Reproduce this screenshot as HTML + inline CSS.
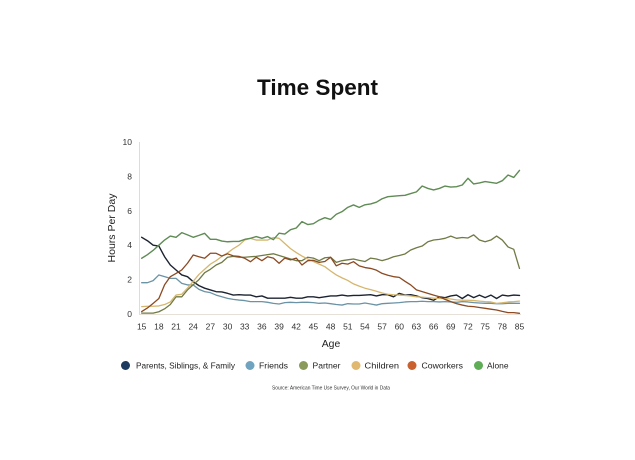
<!DOCTYPE html>
<html>
<head>
<meta charset="utf-8">
<style>
  html, body { margin: 0; padding: 0; background: #ffffff; }
  svg { display: block; }
  text { font-family: "Liberation Sans", sans-serif; }
</style>
</head>
<body>
<svg width="635" height="460" viewBox="0 0 635 460" xmlns="http://www.w3.org/2000/svg">
  <rect width="635" height="460" fill="#ffffff"/>

  <!-- Title -->
  <text x="317.5" y="95" text-anchor="middle" font-size="22" font-weight="bold" fill="#111" textLength="121" lengthAdjust="spacingAndGlyphs">Time Spent</text>

  <!-- Axes -->
  <line x1="139.5" y1="142" x2="139.5" y2="314" stroke="#dcdcdc" stroke-width="1"/>
  <line x1="139" y1="314.5" x2="521" y2="314.5" stroke="#e6e0d6" stroke-width="1"/>

  <!-- Y tick labels -->
  <g font-size="8.5" fill="#333" text-anchor="end">
    <text x="132" y="317">0</text>
    <text x="132" y="282.6">2</text>
    <text x="132" y="248.2">4</text>
    <text x="132" y="213.8">6</text>
    <text x="132" y="179.4">8</text>
    <text x="132" y="145">10</text>
  </g>

  <!-- Y axis title -->
  <text transform="translate(115,228) rotate(-90)" text-anchor="middle" font-size="10" fill="#222" textLength="69" lengthAdjust="spacingAndGlyphs">Hours Per Day</text>

  <!-- X tick labels -->
  <g font-size="8.5" fill="#333" text-anchor="middle">
    <text x="141.7" y="329.5">15</text>
    <text x="158.9" y="329.5">18</text>
    <text x="176.0" y="329.5">21</text>
    <text x="193.2" y="329.5">24</text>
    <text x="210.4" y="329.5">27</text>
    <text x="227.6" y="329.5">30</text>
    <text x="244.7" y="329.5">33</text>
    <text x="261.9" y="329.5">36</text>
    <text x="279.1" y="329.5">39</text>
    <text x="296.2" y="329.5">42</text>
    <text x="313.4" y="329.5">45</text>
    <text x="330.6" y="329.5">48</text>
    <text x="347.8" y="329.5">51</text>
    <text x="364.9" y="329.5">54</text>
    <text x="382.1" y="329.5">57</text>
    <text x="399.3" y="329.5">60</text>
    <text x="416.4" y="329.5">63</text>
    <text x="433.6" y="329.5">66</text>
    <text x="450.8" y="329.5">69</text>
    <text x="468.0" y="329.5">72</text>
    <text x="485.1" y="329.5">75</text>
    <text x="502.3" y="329.5">78</text>
    <text x="519.5" y="329.5">85</text>
  </g>

  <!-- X axis title -->
  <text x="331" y="347" text-anchor="middle" font-size="10" fill="#222" textLength="18.5" lengthAdjust="spacingAndGlyphs">Age</text>

  <!-- Series -->
  <g transform="translate(141.7,314) scale(5.724,-17.2)" fill="none" stroke-linejoin="round" stroke-linecap="round">
    <!-- Family -->
    <polyline vector-effect="non-scaling-stroke" stroke="#1c2330" stroke-width="1.4"
      points="0,4.46 1,4.26 2,4.0 3,3.95 4,3.33 5,2.85 6,2.56 7,2.27 8,2.17 9,1.88 10,1.65 11,1.5 12,1.4 13,1.3 14,1.28 15,1.2 16,1.1 17,1.12 18,1.1 19,1.1 20,1.0 21,1.05 22,0.92 23,0.92 24,0.92 25,0.92 26,0.97 27,0.92 28,0.92 29,1.0 30,1.0 31,0.95 32,1.0 33,1.05 34,1.05 35,1.1 36,1.05 37,1.08 38,1.08 39,1.1 40,1.12 41,1.05 42,1.12 43,1.12 44,1.0 45,1.2 46,1.1 47,1.12 48,1.05 49,0.95 50,0.9 51,0.8 52,1.0 53,0.95 54,1.05 55,1.1 56,0.9 57,1.12 58,0.95 59,1.1 60,0.95 61,1.1 62,0.9 63,1.1 64,1.05 65,1.1 66,1.08"/>
    <!-- Friends -->
    <polyline vector-effect="non-scaling-stroke" stroke="#6b93a6" stroke-width="1.3"
      points="0,1.82 1,1.82 2,1.94 3,2.27 4,2.17 5,2.07 6,2.07 7,1.78 8,1.69 9,1.69 10,1.43 11,1.3 12,1.24 13,1.1 14,1.0 15,0.91 16,0.85 17,0.81 18,0.78 19,0.72 20,0.72 21,0.72 22,0.68 23,0.62 24,0.58 25,0.66 26,0.68 27,0.66 28,0.68 29,0.68 30,0.66 31,0.62 32,0.64 33,0.6 34,0.55 35,0.52 36,0.6 37,0.58 38,0.58 39,0.64 40,0.58 41,0.52 42,0.6 43,0.62 44,0.64 45,0.66 46,0.7 47,0.72 48,0.72 49,0.74 50,0.72 51,0.72 52,0.7 53,0.72 54,0.7 55,0.68 56,0.72 57,0.7 58,0.66 59,0.64 60,0.62 61,0.62 62,0.6 63,0.6 64,0.62 65,0.62 66,0.62"/>
    <!-- Partner -->
    <polyline vector-effect="non-scaling-stroke" stroke="#6f7a44" stroke-width="1.3"
      points="0,0.05 1,0.05 2,0.05 3,0.13 4,0.3 5,0.55 6,1.0 7,1.0 8,1.4 9,1.7 10,2.0 11,2.4 12,2.6 13,2.85 14,3.0 15,3.3 16,3.35 17,3.3 18,3.3 19,3.33 20,3.35 21,3.4 22,3.45 23,3.5 24,3.4 25,3.3 26,3.2 27,3.1 28,3.1 29,3.3 30,3.25 31,3.1 32,3.27 33,3.3 34,3.0 35,3.1 36,3.15 37,3.2 38,3.12 39,3.05 40,3.25 41,3.2 42,3.1 43,3.2 44,3.33 45,3.4 46,3.49 47,3.72 48,3.85 49,3.95 50,4.2 51,4.3 52,4.34 53,4.4 54,4.53 55,4.4 56,4.45 57,4.42 58,4.6 59,4.3 60,4.2 61,4.3 62,4.53 63,4.3 64,3.9 65,3.76 66,2.65"/>
    <!-- Children -->
    <polyline vector-effect="non-scaling-stroke" stroke="#d6b66e" stroke-width="1.3"
      points="0,0.43 1,0.45 2,0.45 3,0.47 4,0.55 5,0.7 6,1.1 7,1.15 8,1.5 9,1.9 10,2.3 11,2.6 12,2.9 13,3.1 14,3.35 15,3.55 16,3.8 17,4.0 18,4.3 19,4.4 20,4.3 21,4.3 22,4.3 23,4.45 24,4.4 25,4.1 26,3.8 27,3.57 28,3.37 29,3.2 30,3.05 31,2.9 32,2.75 33,2.5 34,2.27 35,2.1 36,1.95 37,1.75 38,1.62 39,1.5 40,1.42 41,1.32 42,1.22 43,1.15 44,1.12 45,1.1 46,1.08 47,1.05 48,1.0 49,0.98 50,0.95 51,0.92 52,0.9 53,0.9 54,0.87 55,0.82 56,0.8 57,0.8 58,0.78 59,0.75 60,0.72 61,0.7 62,0.62 63,0.65 64,0.7 65,0.72 66,0.75"/>
    <!-- Coworkers -->
    <polyline vector-effect="non-scaling-stroke" stroke="#8b4a22" stroke-width="1.3"
      points="0,0.14 1,0.35 2,0.62 3,0.9 4,1.7 5,2.17 6,2.36 7,2.56 8,2.95 9,3.43 10,3.33 11,3.24 12,3.53 13,3.53 14,3.37 15,3.5 16,3.38 17,3.35 18,3.24 19,3.04 20,3.3 21,3.1 22,3.33 23,3.25 24,2.95 25,3.25 26,3.15 27,3.25 28,2.85 29,3.1 30,3.12 31,3.0 32,3.05 33,3.3 34,2.8 35,2.95 36,2.9 37,3.04 38,2.8 39,2.7 40,2.65 41,2.55 42,2.36 43,2.25 44,2.17 45,2.13 46,1.9 47,1.69 48,1.4 49,1.3 50,1.2 51,1.1 52,1.0 53,0.85 54,0.72 55,0.6 56,0.52 57,0.45 58,0.43 59,0.38 60,0.33 61,0.28 62,0.23 63,0.15 64,0.08 65,0.08 66,0.04"/>
    <!-- Alone -->
    <polyline vector-effect="non-scaling-stroke" stroke="#5f8b55" stroke-width="1.4"
      points="0,3.24 1,3.45 2,3.7 3,4.0 4,4.3 5,4.53 6,4.46 7,4.73 8,4.6 9,4.46 10,4.57 11,4.69 12,4.34 13,4.34 14,4.24 15,4.2 16,4.22 17,4.22 18,4.34 19,4.4 20,4.5 21,4.4 22,4.5 23,4.32 24,4.7 25,4.65 26,4.9 27,5.0 28,5.37 29,5.2 30,5.25 31,5.46 32,5.6 33,5.5 34,5.8 35,5.95 36,6.2 37,6.34 38,6.2 39,6.35 40,6.4 41,6.5 42,6.7 43,6.82 44,6.85 45,6.88 46,6.9 47,7.0 48,7.1 49,7.44 50,7.3 51,7.21 52,7.3 53,7.44 54,7.38 55,7.4 56,7.5 57,7.89 58,7.56 59,7.62 60,7.7 61,7.65 62,7.6 63,7.75 64,8.08 65,7.94 66,8.35"/>
  </g>

  <!-- Legend -->
  <g font-size="8.5" fill="#222">
    <circle cx="125.5" cy="365.5" r="4.5" fill="#1f3a5f"/>
    <text x="136" y="368.5" textLength="99" lengthAdjust="spacingAndGlyphs">Parents, Siblings, &amp; Family</text>
    <circle cx="250" cy="365.5" r="4.5" fill="#6fa3c0"/>
    <text x="259" y="368.5" textLength="29" lengthAdjust="spacingAndGlyphs">Friends</text>
    <circle cx="303.5" cy="365.5" r="4.5" fill="#8a9a5b"/>
    <text x="312.5" y="368.5" textLength="28" lengthAdjust="spacingAndGlyphs">Partner</text>
    <circle cx="356" cy="365.5" r="4.5" fill="#e0b870"/>
    <text x="364.5" y="368.5" textLength="34.5" lengthAdjust="spacingAndGlyphs">Children</text>
    <circle cx="412" cy="365.5" r="4.5" fill="#c8612e"/>
    <text x="421.5" y="368.5" textLength="41.5" lengthAdjust="spacingAndGlyphs">Coworkers</text>
    <circle cx="478.5" cy="365.5" r="4.5" fill="#5fad56"/>
    <text x="487" y="368.5" textLength="21.5" lengthAdjust="spacingAndGlyphs">Alone</text>
  </g>

  <!-- Source -->
  <text x="331" y="389.5" text-anchor="middle" font-size="5" fill="#333" textLength="118" lengthAdjust="spacingAndGlyphs">Source: American Time Use Survey, Our World in Data</text>
</svg>
</body>
</html>
